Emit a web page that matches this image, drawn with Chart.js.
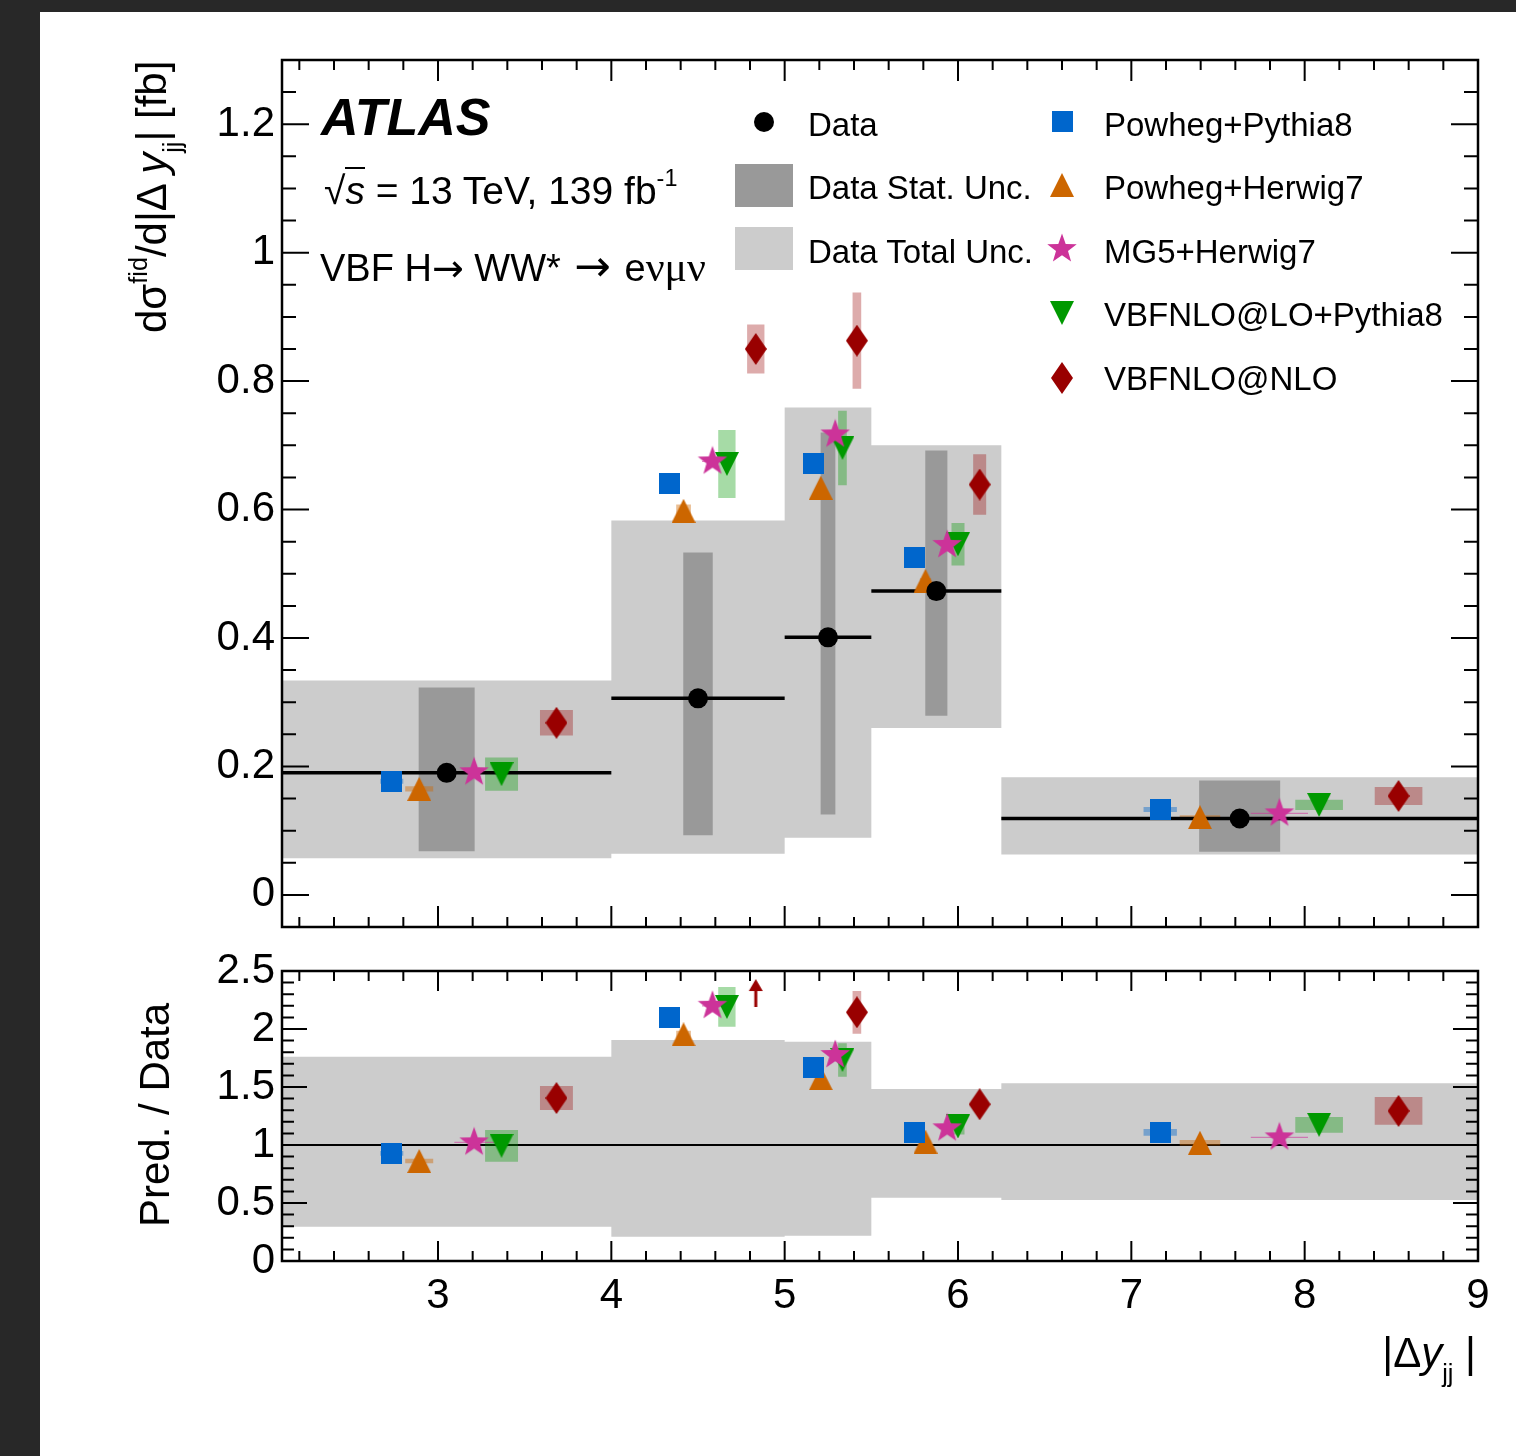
<!DOCTYPE html>
<html lang="en">
<head>
<meta charset="utf-8">
<title>VBF H→WW* differential cross-section in |Δy_jj|</title>
<script src="https://cdn.jsdelivr.net/npm/chart.js@4.4.1/dist/chart.umd.min.js"></script>
<style>
  html, body { margin: 0; padding: 0; background: #282828; }
  #page { position: relative; width: 1516px; height: 1456px; overflow: hidden; }
  #sheet { position: absolute; left: 40px; top: 12px; right: 0; bottom: 0; background: #fff; }
  canvas.plot { position: absolute; left: 0; }
  #xsec { top: 0; }
  #ratio { top: 930px; }
  .t { position: absolute; white-space: nowrap; line-height: 1; color: #000;
       font-family: 'Liberation Sans', Arial, Helvetica, sans-serif; }
  .rot { transform-origin: 0 0; transform: rotate(-90deg); }
  .sup { font-size: 0.6em; position: relative; top: -0.75em; }
  .sub { font-size: 0.6em; position: relative; top: 0.6em; }
  .arr { font-family: 'DejaVu Sans', sans-serif; }
  .greek { font-family: 'Liberation Serif', serif; font-size: 1.1em; }
  .leg { font-size: 33px; }
  .box, .icon { position: absolute; }
</style>
</head>
<body>
<div id="page">
  <div id="sheet"></div>
  <canvas id="xsec" class="plot" width="1516" height="990"></canvas>
  <canvas id="ratio" class="plot" width="1516" height="526"></canvas>

  <!-- labels on the upper panel -->
  <div class="t" style="left:321px; top:91px; font-size:52px; font-weight:bold; font-style:italic;">ATLAS</div>
  <div class="t" style="left:324px; top:171px; font-size:39px;">√<span style="font-style:italic; border-top:2px solid #000;">s</span> = 13 TeV, 139 fb<span class="sup">-1</span></div>
  <div class="t" style="left:320px; top:244px; font-size:38px;">VBF H<span class="arr">→</span> WW* <span class="arr" style="margin-left:3px; font-size:1.15em;">→</span> <span style="margin-left:3px;">e</span><span class="greek">νμν</span></div>

  <!-- legend -->
  <div class="box" style="left:735px; top:164px; width:58px; height:43px; background:#999999;"></div>
  <div class="box" style="left:735px; top:227px; width:58px; height:43px; background:#cccccc;"></div>
  <div class="t leg" style="left:808px; top:108px;">Data</div>
  <div class="t leg" style="left:808px; top:171px;">Data Stat. Unc.</div>
  <div class="t leg" style="left:808px; top:235px;">Data Total Unc.</div>
  <div class="t leg" style="left:1104px; top:108px;">Powheg+Pythia8</div>
  <div class="t leg" style="left:1104px; top:171px;">Powheg+Herwig7</div>
  <div class="t leg" style="left:1104px; top:235px;">MG5+Herwig7</div>
  <div class="t leg" style="left:1104px; top:298px;">VBFNLO@LO+Pythia8</div>
  <div class="t leg" style="left:1104px; top:362px;">VBFNLO@NLO</div>

  <!-- axis titles -->
  <div class="t rot" style="left:131px; top:333px; font-size:42px;">dσ<span class="sup">fid</span>/d|Δ <i>y</i><span class="sub">jj</span>| [fb]</div>
  <div class="t rot" style="left:134px; top:1227px; font-size:42px;">Pred. / Data</div>
  <div class="t" style="right:40px; top:1332px; font-size:42px;">|Δ<i>y</i><span class="sub">jj</span> |</div>
</div>

<script>
// |Δy_jj| binning and axis labels
const BIN_EDGES = [2.1, 4.0, 5.0, 5.5, 6.25, 9.0];
const X_TICKS = [3, 4, 5, 6, 7, 8, 9];
const XSEC_TICKS = [0, 0.2, 0.4, 0.6, 0.8, 1, 1.2];
const RATIO_TICKS = [0, 0.5, 1, 1.5, 2, 2.5];

// measured fiducial cross-section [fb] with stat / total bands
const DATA_XSEC = [0.190, 0.306, 0.401, 0.473, 0.119];
const DATA_STAT_UP = [0.323, 0.533, 0.720, 0.692, 0.178];
const DATA_STAT_DOWN = [0.068, 0.093, 0.125, 0.279, 0.067];
const DATA_TOTAL_UP = [0.334, 0.583, 0.759, 0.700, 0.183];
const DATA_TOTAL_DOWN = [0.057, 0.064, 0.089, 0.260, 0.063];

// total data uncertainty relative to the measurement
const RATIO_TOTAL_UP = [1.761, 1.905, 1.890, 1.483, 1.532];
const RATIO_TOTAL_DOWN = [0.296, 0.210, 0.218, 0.546, 0.526];

// predictions [fb] and their uncertainties
const POWHEG_PY8 = [0.177, 0.641, 0.671, 0.525, 0.133];
const POWHEG_PY8_ERR = [0.004, 0.004, 0.012, 0.004, 0.004];
const POWHEG_H7 = [0.165, 0.598, 0.634, 0.489, 0.121];
const POWHEG_H7_ERR = [0.004, 0.010, 0.004, 0.004, 0.003];
const MG5_H7 = [0.191, 0.675, 0.717, 0.545, 0.127];
const MG5_H7_ERR = [0.001, 0.001, 0.001, 0.001, 0.001];
const VBFNLO_LO = [0.188, 0.671, 0.696, 0.546, 0.140];
const VBFNLO_LO_ERR = [0.026, 0.053, 0.058, 0.033, 0.008];
const VBFNLO_NLO = [0.268, 0.850, 0.863, 0.639, 0.154];
const VBFNLO_NLO_ERR = [0.020, 0.038, 0.075, 0.047, 0.014];

// prediction / data
const POWHEG_PY8_RATIO = [0.928, 2.100, 1.670, 1.109, 1.109];
const POWHEG_PY8_RATIO_ERR = [0.020, 0.010, 0.010, 0.010, 0.029];
const POWHEG_H7_RATIO = [0.862, 1.954, 1.575, 1.029, 1.019];
const POWHEG_H7_RATIO_ERR = [0.020, 0.030, 0.010, 0.010, 0.024];
const MG5_H7_RATIO = [1.023, 2.200, 1.776, 1.144, 1.066];
const MG5_H7_RATIO_ERR = [0.005, 0.005, 0.005, 0.005, 0.005];
const VBFNLO_LO_RATIO = [0.993, 2.190, 1.733, 1.160, 1.174];
const VBFNLO_LO_RATIO_ERR = [0.137, 0.171, 0.144, 0.070, 0.068];
const VBFNLO_NLO_RATIO = [1.405, 2.780, 2.144, 1.351, 1.294];
const VBFNLO_NLO_RATIO_ERR = [0.103, 0.120, 0.184, 0.000, 0.119];

// ---- drawing constants ----
const X_MIN = 2.1, X_MAX = 9;
const RATIO_MAX = 2.5;
const RATIO_ARROW_Y = 2.31;   // where off-scale ratios get their arrow
const STAT_FRAC = 0.17;       // stat box width as a fraction of the bin
const LEGEND_ROWS = [121, 185, 249, 313, 378];

Chart.defaults.font.family = "'Liberation Sans', Arial, Helvetica, sans-serif";
Chart.defaults.color = '#000';

function makeCanvas(w, h, paint) {
  const c = document.createElement('canvas');
  c.width = w;
  c.height = h;
  paint(c.getContext('2d'), w, h);
  return c;
}

function polygon(g, pts, color) {
  g.fillStyle = color;
  g.beginPath();
  pts.forEach(([x, y], i) => (i ? g.lineTo(x, y) : g.moveTo(x, y)));
  g.closePath();
  g.fill();
}

const MARKERS = {
  dot: c => makeCanvas(20, 20, (g) => {
    g.fillStyle = c; g.beginPath(); g.arc(10, 10, 10, 0, Math.PI * 2); g.fill();
  }),
  square: c => makeCanvas(21, 21, (g, w, h) => { g.fillStyle = c; g.fillRect(0, 0, w, h); }),
  triangleUp: c => makeCanvas(24, 24, (g, w, h) => polygon(g, [[w / 2, 0], [w, h], [0, h]], c)),
  triangleDown: c => makeCanvas(24, 24, (g, w, h) => polygon(g, [[0, 0], [w, 0], [w / 2, h]], c)),
  star: c => makeCanvas(32, 32, (g, w, h) => {
    const pts = [];
    for (let k = 0; k < 10; k++) {
      const r = k % 2 ? 6.3 : 15.5;
      const a = -Math.PI / 2 + k * Math.PI / 5;
      pts.push([w / 2 + r * Math.cos(a), h / 2 + r * Math.sin(a)]);
    }
    polygon(g, pts, c);
  }),
  diamond: c => makeCanvas(22, 32, (g, w, h) => polygon(g, [[w / 2, 0], [w, h / 2], [w / 2, h], [0, h / 2]], c)),
  arrowUp: c => makeCanvas(16, 28, (g, w, h) => {
    polygon(g, [[w / 2, 0], [w - 1, 12], [1, 12]], c);
    g.fillRect(w / 2 - 1.5, 10, 3, h - 10);
  }),
};

const MODELS = [
  { label: 'Powheg+Pythia8', color: '#0066cc', shade: 'rgba(0,102,204,0.42)', marker: 'square',
    pos: 4 / 12, boxFrac: 0.07, xsec: POWHEG_PY8, err: POWHEG_PY8_ERR,
    ratio: POWHEG_PY8_RATIO, ratioErr: POWHEG_PY8_RATIO_ERR },
  { label: 'Powheg+Herwig7', color: '#cc6600', shade: 'rgba(204,102,0,0.42)', marker: 'triangleUp',
    pos: 5 / 12, boxFrac: 0.085, xsec: POWHEG_H7, err: POWHEG_H7_ERR,
    ratio: POWHEG_H7_RATIO, ratioErr: POWHEG_H7_RATIO_ERR },
  { label: 'MG5+Herwig7', color: '#cc3399', shade: 'rgba(204,51,153,0.55)', marker: 'star',
    pos: 7 / 12, boxFrac: 0.12, xsec: MG5_H7, err: MG5_H7_ERR,
    ratio: MG5_H7_RATIO, ratioErr: MG5_H7_RATIO_ERR },
  { label: 'VBFNLO@LO+Pythia8', color: '#009900', shade: 'rgba(0,153,0,0.35)', marker: 'triangleDown',
    pos: 8 / 12, boxFrac: 0.1, xsec: VBFNLO_LO, err: VBFNLO_LO_ERR,
    ratio: VBFNLO_LO_RATIO, ratioErr: VBFNLO_LO_RATIO_ERR },
  { label: 'VBFNLO@NLO', color: '#990000', shade: 'rgba(153,0,0,0.33)', marker: 'diamond',
    pos: 10 / 12, boxFrac: 0.1, xsec: VBFNLO_NLO, err: VBFNLO_NLO_ERR,
    ratio: VBFNLO_NLO_RATIO, ratioErr: VBFNLO_NLO_RATIO_ERR },
];
MODELS.forEach(m => { m.icon = MARKERS[m.marker](m.color); });

const BINS = DATA_XSEC.map((_, i) => i);
const binWidth = i => BIN_EDGES[i + 1] - BIN_EDGES[i];
const binAt = (i, f) => BIN_EDGES[i] + f * binWidth(i);

// a filled rectangle, drawn as a closed line shape
function rectSet(x0, x1, lo, hi, color, order) {
  return {
    data: [{ x: x0, y: lo }, { x: x0, y: hi }, { x: x1, y: hi }, { x: x1, y: lo }],
    fill: 'shape', backgroundColor: color, borderColor: 'transparent', borderWidth: 0,
    pointRadius: 0, order,
  };
}

// stepped band over all bins as one polygon (no seams between bins)
function bandSet(up, down, color, order) {
  const top = BINS.flatMap(i => [{ x: BIN_EDGES[i], y: up[i] }, { x: BIN_EDGES[i + 1], y: up[i] }]);
  const bottom = BINS.slice().reverse()
    .flatMap(i => [{ x: BIN_EDGES[i + 1], y: down[i] }, { x: BIN_EDGES[i], y: down[i] }]);
  return {
    data: top.concat(bottom), fill: 'shape', backgroundColor: color,
    borderColor: 'transparent', borderWidth: 0, pointRadius: 0, order,
  };
}

function modelSets(valKey, errKey, yMax) {
  const sets = [];
  MODELS.forEach(m => {
    const vals = m[valKey], errs = m[errKey];
    const shown = BINS.filter(i => vals[i] <= yMax);
    shown.forEach(i => {
      const xc = binAt(i, m.pos), hw = m.boxFrac * binWidth(i) / 2;
      sets.push(rectSet(xc - hw, xc + hw, vals[i] - errs[i], vals[i] + errs[i], m.shade, 3));
    });
    sets.push({
      data: shown.map(i => ({ x: binAt(i, m.pos), y: vals[i] })),
      showLine: false, pointStyle: m.icon, pointRadius: 12, pointBorderWidth: 0, order: 1,
    });
    const over = BINS.filter(i => vals[i] > yMax);
    if (over.length) {
      sets.push({
        data: over.map(i => ({ x: binAt(i, m.pos), y: RATIO_ARROW_Y })),
        showLine: false, pointStyle: MARKERS.arrowUp(m.color), pointRadius: 12,
        pointBorderWidth: 0, order: 1,
      });
    }
  });
  return sets;
}

// ROOT-style frame with inward ticks on all four sides
function eachTick(min, max, step, major, fn) {
  const k0 = Math.ceil(min / step - 1e-6), k1 = Math.floor(max / step + 1e-6);
  for (let k = k0; k <= k1; k++) {
    const v = k * step;
    if (Math.abs(v - min) < 1e-6 || Math.abs(v - max) < 1e-6) continue;
    const r = v / major;
    fn(v, Math.abs(r - Math.round(r)) < 1e-6);
  }
}

const frameTicks = {
  id: 'frameTicks',
  afterDatasetsDraw(chart, args, opts) {
    const { ctx, chartArea: a } = chart;
    const xs = chart.scales.x, ys = chart.scales.y;
    ctx.save();
    ctx.strokeStyle = '#000';
    ctx.lineWidth = 2;
    ctx.beginPath();
    eachTick(xs.min, xs.max, opts.x.minor, opts.x.major, (v, big) => {
      const px = xs.getPixelForValue(v), len = big ? opts.x.len[0] : opts.x.len[1];
      ctx.moveTo(px, a.bottom); ctx.lineTo(px, a.bottom - len);
      ctx.moveTo(px, a.top); ctx.lineTo(px, a.top + len);
    });
    eachTick(ys.min, ys.max, opts.y.minor, opts.y.major, (v, big) => {
      const py = ys.getPixelForValue(v), len = big ? opts.y.len[0] : opts.y.len[1];
      ctx.moveTo(a.left, py); ctx.lineTo(a.left + len, py);
      ctx.moveTo(a.right, py); ctx.lineTo(a.right - len, py);
    });
    ctx.stroke();
    ctx.lineWidth = 2.5;
    ctx.strokeRect(a.left, a.top, a.right - a.left, a.bottom - a.top);
    ctx.restore();
  },
};

const fixedTicks = list => scale => { scale.ticks = list.map(v => ({ value: v })); };
const tickFont = { size: 42 };

function yAxis(min, max, ticks) {
  return {
    type: 'linear', min, max,
    grid: { display: false, drawTicks: false }, border: { display: false },
    afterBuildTicks: fixedTicks(ticks),
    afterFit: s => { s.width = 100; },
    ticks: { font: tickFont, padding: 7, callback: v => String(v) },
  };
}

// ---- upper panel: cross-section ----
new Chart(document.getElementById('xsec'), {
  type: 'line',
  data: {
    datasets: [
      bandSet(DATA_TOTAL_UP, DATA_TOTAL_DOWN, '#cccccc', 5),
      ...BINS.map(i => {
        const xc = binAt(i, 0.5), hw = STAT_FRAC * binWidth(i) / 2;
        return rectSet(xc - hw, xc + hw, DATA_STAT_DOWN[i], DATA_STAT_UP[i], '#999999', 4);
      }),
      ...modelSets('xsec', 'err', Infinity),
      {
        data: BINS.flatMap(i => [
          { x: BIN_EDGES[i], y: DATA_XSEC[i] },
          { x: BIN_EDGES[i + 1], y: DATA_XSEC[i] },
          { x: BIN_EDGES[i + 1], y: null },
        ]),
        borderColor: '#000', borderWidth: 3.5, pointRadius: 0, spanGaps: false, order: 2,
      },
      {
        data: BINS.map(i => ({ x: binAt(i, 0.5), y: DATA_XSEC[i] })),
        showLine: false, pointStyle: 'circle', pointRadius: 10,
        pointBackgroundColor: '#000', pointBorderWidth: 0, order: 0,
      },
    ],
  },
  options: {
    responsive: false, animation: false, events: [],
    layout: { padding: { left: 182, right: 38, top: 60, bottom: 63 } },
    scales: {
      x: { type: 'linear', min: X_MIN, max: X_MAX, display: false },
      y: yAxis(-0.05, 1.3, XSEC_TICKS),
    },
    plugins: {
      legend: { display: false }, tooltip: { enabled: false },
      frameTicks: {
        x: { major: 1, minor: 0.2, len: [21, 10] },
        y: { major: 0.2, minor: 0.05, len: [27, 14] },
      },
    },
  },
  plugins: [frameTicks],
});

// ---- lower panel: prediction / data ----
new Chart(document.getElementById('ratio'), {
  type: 'line',
  data: {
    datasets: [
      bandSet(RATIO_TOTAL_UP, RATIO_TOTAL_DOWN, '#cccccc', 5),
      {
        data: [{ x: X_MIN, y: 1 }, { x: X_MAX, y: 1 }],
        borderColor: '#000', borderWidth: 2, pointRadius: 0, order: 4,
      },
      ...modelSets('ratio', 'ratioErr', RATIO_MAX),
    ],
  },
  options: {
    responsive: false, animation: false, events: [],
    layout: { padding: { left: 182, right: 38, top: 41, bottom: 135 } },
    scales: {
      x: {
        type: 'linear', min: X_MIN, max: X_MAX,
        grid: { display: false, drawTicks: false }, border: { display: false },
        afterBuildTicks: fixedTicks(X_TICKS),
        afterFit: s => { s.height = 60; },
        ticks: { font: tickFont, padding: 10, maxRotation: 0, autoSkip: false, callback: v => String(v) },
      },
      y: yAxis(0, RATIO_MAX, RATIO_TICKS),
    },
    plugins: {
      legend: { display: false }, tooltip: { enabled: false },
      frameTicks: {
        x: { major: 1, minor: 0.2, len: [20, 10] },
        y: { major: 0.5, minor: 0.1, len: [25, 12] },
      },
    },
  },
  plugins: [frameTicks],
});

// ---- legend markers ----
const page = document.getElementById('page');
function placeIcon(canvas, cx, cy) {
  canvas.className = 'icon';
  canvas.style.left = (cx - canvas.width / 2) + 'px';
  canvas.style.top = (cy - canvas.height / 2) + 'px';
  page.appendChild(canvas);
}
placeIcon(MARKERS.dot('#000'), 764, 122);
MODELS.forEach((m, k) => placeIcon(MARKERS[m.marker](m.color), 1062, LEGEND_ROWS[k]));
</script>
</body>
</html>
